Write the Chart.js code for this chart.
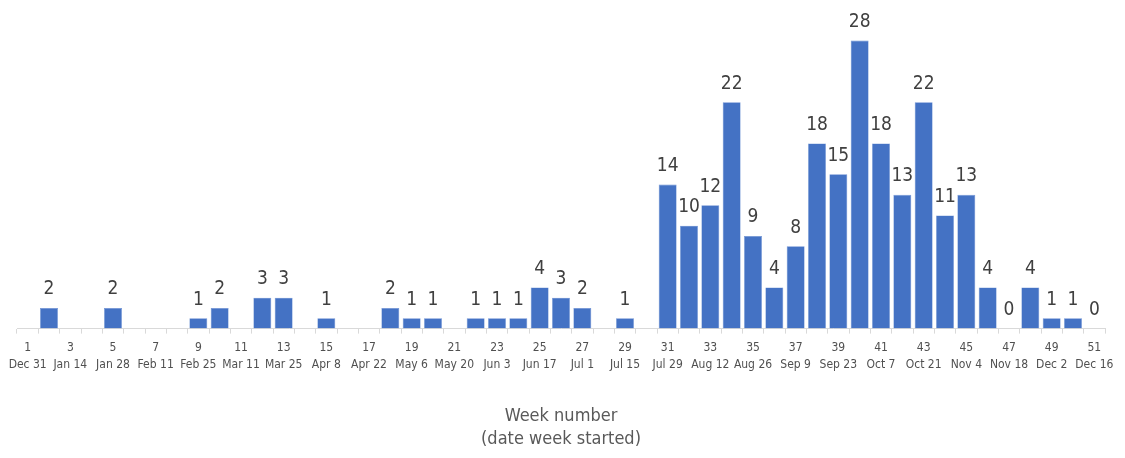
<!DOCTYPE html>
<html>
<head>
<meta charset="utf-8">
<script src="https://cdn.jsdelivr.net/npm/chart.js@4"></script>
<style>
  html, body { margin: 0; padding: 0; background: #fff; }
  #wrap { width: 1125px; height: 458px; }
</style>
</head>
<body>
<div id="wrap"><canvas id="weekChart"></canvas></div>
<script>
// week numbers 1..51
const weeks = Array.from({ length: 51 }, (_, i) => i + 1);

// cases per week (null = no bar and no label)
const counts = [
  null, 2, null, null, 2, null, null, null, 1, 2,
  null, 3, 3, null, 1, null, null, 2, 1, 1,
  null, 1, 1, 1, 4, 3, 2, null, 1, null,
  14, 10, 12, 22, 9, 4, 8, 18, 15, 28,
  18, 13, 22, 11, 13, 4, 0, 4, 1, 1,
  0
];

// date each odd week started (shown under weeks 1, 3, 5 ...)
const tickDates = [
  'Dec 31', 'Jan 14', 'Jan 28', 'Feb 11', 'Feb 25', 'Mar 11', 'Mar 25',
  'Apr 8', 'Apr 22', 'May 6', 'May 20', 'Jun 3', 'Jun 17', 'Jul 1',
  'Jul 15', 'Jul 29', 'Aug 12', 'Aug 26', 'Sep 9', 'Sep 23', 'Oct 7',
  'Oct 21', 'Nov 4', 'Nov 18', 'Dec 2', 'Dec 16'
];

const axisTitle = ['Week number', '(date week started)'];

const narrow = '"Liberation Sans Narrow", "DejaVu Sans Condensed", "Liberation Sans", sans-serif';

// draw the value above each bar
const valueLabels = {
  id: 'valueLabels',
  afterDatasetsDraw(chart) {
    const ctx = chart.ctx;
    const meta = chart.getDatasetMeta(0);
    ctx.save();
    ctx.font = '19px ' + narrow;
    ctx.fillStyle = '#404040';
    ctx.textAlign = 'center';
    ctx.textBaseline = 'bottom';
    meta.data.forEach((bar, i) => {
      const v = counts[i];
      if (v === null) return;
      ctx.fillText(String(v), bar.x, bar.y - 9);
    });
    ctx.restore();
  }
};

const ctx = document.getElementById('weekChart').getContext('2d');
new Chart(ctx, {
  type: 'bar',
  data: {
    labels: weeks,
    datasets: [{
      data: counts,
      backgroundColor: '#4472C4',
      borderColor: '#6A8FD3',
      borderWidth: 0.6,
      barPercentage: 0.84,
      categoryPercentage: 1.0
    }]
  },
  options: {
    responsive: true,
    maintainAspectRatio: false,
    animation: false,
    layout: { padding: { top: 20, left: 17, right: 20, bottom: 7 } },
    plugins: {
      legend: { display: false },
      tooltip: { enabled: false }
    },
    scales: {
      x: {
        grid: {
          display: true,
          offset: true,
          drawOnChartArea: false,
          drawTicks: true,
          tickLength: 5,
          color: '#D9D9D9'
        },
        border: { display: true, color: '#D9D9D9', width: 1 },
        ticks: {
          autoSkip: false,
          maxRotation: 0,
          minRotation: 0,
          padding: 6,
          color: '#505050',
          font: { family: narrow, size: 12, lineHeight: 1.4 },
          callback: (val, i) => i % 2 === 0 ? [String(weeks[i]), tickDates[i / 2]] : ''
        },
        title: {
          display: true,
          text: axisTitle,
          color: '#595959',
          font: { family: narrow, size: 18, lineHeight: 1.3 },
          padding: { top: 25, bottom: 0 }
        }
      },
      y: {
        display: false,
        min: 0,
        max: 30
      }
    }
  },
  plugins: [valueLabels]
});
</script>
</body>
</html>
